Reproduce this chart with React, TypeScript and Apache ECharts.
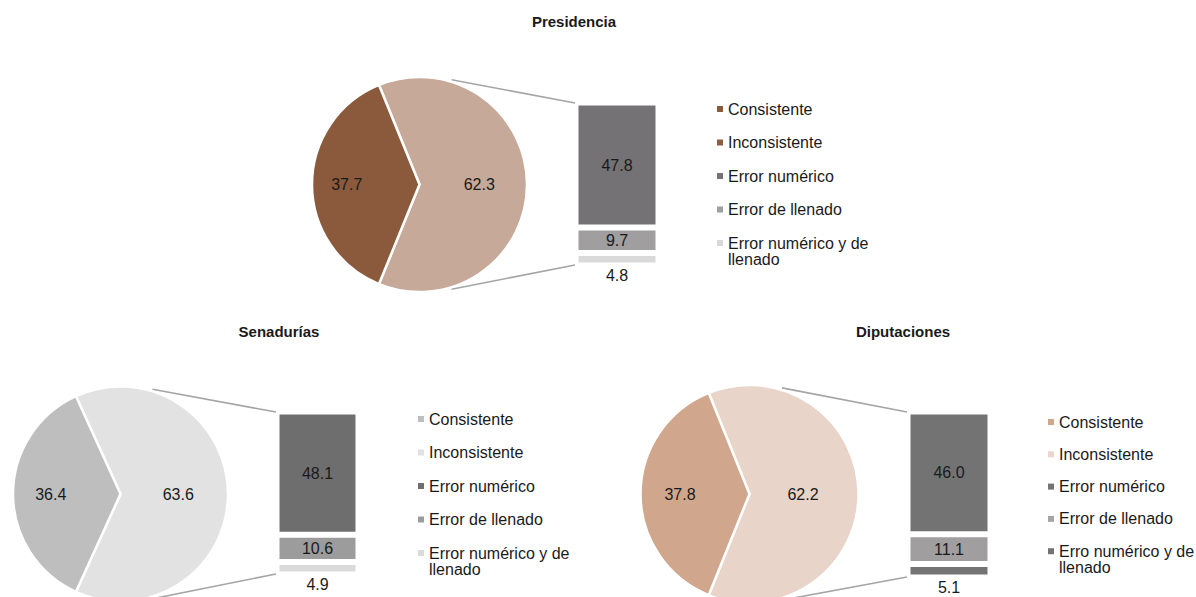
import React, { useEffect, useRef } from 'react';
import * as echarts from 'echarts';

// ---------- data ----------
const chartTitles = ['Presidencia', 'Senadurías', 'Diputaciones'];
const pieCategories = ['Consistente', 'Inconsistente'];
const consistente = [37.7, 36.4, 37.8];
const inconsistente = [62.3, 63.6, 62.2];
const barCategories = [
  ['Error numérico', 'Error de llenado', 'Error numérico y de llenado'],
  ['Error numérico', 'Error de llenado', 'Error numérico y de llenado'],
  ['Error numérico', 'Error de llenado', 'Erro numérico y de llenado'],
];
const errorNumerico = [47.8, 48.1, 46.0];
const errorLlenado = [9.7, 10.6, 11.1];
const errorAmbos = [4.8, 4.9, 5.1];

// ---------- styles ----------
const consColors = ['#8B5A3C', '#BEBEBE', '#D0A68C'];
const incColors = ['#C6A999', '#E2E2E2', '#E8D4C8'];
const barColors = [
  ['#747274', '#A09E9F', '#D9D9D9'],
  ['#6E6E6E', '#9C9C9C', '#DADADA'],
  ['#747374', '#A09E9F', '#747374'],
];
const legendColors = [
  ['#8B5A3C', '#8E5C42', '#747274', '#A09E9F', '#D9D9D9'],
  ['#BEBEBE', '#E1E1E1', '#6E6E6E', '#9C9C9C', '#DADADA'],
  ['#D0A68C', '#EBD6CB', '#747374', '#A5A5A5', '#747374'],
];

// ---------- layout ----------
const layouts = [
  { title: [574, 21], cx: 419.5, cy: 184.5, r: 107.5, bar: { left: 577, top: 104, width: 80, height: 160 }, legend: { left: 717, top: 100.5, gap: 16.5 }, labelDx: [3, -16] },
  { title: [279, 331], cx: 120.5, cy: 494, r: 107.5, bar: { left: 278, top: 413, width: 79, height: 160 }, legend: { left: 418, top: 410.5, gap: 16.5 }, labelDx: [1, -13] },
  { title: [903, 331], cx: 749.5, cy: 494, r: 109, bar: { left: 909, top: 413, width: 80, height: 163 }, legend: { left: 1048, top: 413.5, gap: 15.3 }, labelDx: [-4, -12] },
];

const FONT = '"Liberation Sans", Arial, Helvetica, sans-serif';
const TEXT = '#1a1a1a';
const LINE_ANGLE = (73 * Math.PI) / 180;
const LEGEND_LH = 17;
const WRAP_SUFFIX = ' y de llenado';
const WRAP_WORD = ' llenado';

function buildOption() {
  const grid: any[] = [];
  const xAxis: any[] = [];
  const yAxis: any[] = [];
  const series: any[] = [];
  const legend: any[] = [];
  const graphic: any[] = [];
  const barValues = [errorNumerico, errorLlenado, errorAmbos];

  chartTitles.forEach((title, i) => {
    const L = layouts[i];
    const inc = inconsistente[i];
    const cons = consistente[i];
    const total = barValues.reduce((s, arr) => s + arr[i], 0);
    const bw = 3;

    graphic.push({
      type: 'text',
      x: L.title[0],
      y: L.title[1],
      silent: true,
      style: {
        text: title,
        font: `bold 15px ${FONT}`,
        fill: TEXT,
        align: 'center',
        verticalAlign: 'middle',
        textAlign: 'center',
        textVerticalAlign: 'middle',
      },
    });

    // connector lines
    const rr = L.r + 2;
    graphic.push({
      type: 'line',
      silent: true,
      shape: {
        x1: L.cx + rr * Math.cos(LINE_ANGLE),
        y1: L.cy - rr * Math.sin(LINE_ANGLE),
        x2: L.bar.left - 2,
        y2: L.bar.top - 1,
      },
      style: { stroke: '#A5A5A5', lineWidth: 1.6 },
    });
    graphic.push({
      type: 'line',
      silent: true,
      shape: {
        x1: L.cx + rr * Math.cos(LINE_ANGLE),
        y1: L.cy + rr * Math.sin(LINE_ANGLE),
        x2: L.bar.left - 2,
        y2: L.bar.top + L.bar.height + 1,
      },
      style: { stroke: '#A5A5A5', lineWidth: 1.6 },
    });

    series.push({
      type: 'pie',
      name: title,
      center: [L.cx, L.cy],
      radius: L.r,
      startAngle: (180 * inc) / (inc + cons),
      clockwise: true,
      avoidLabelOverlap: false,
      silent: true,
      emphasis: { disabled: true },
      itemStyle: { borderColor: '#ffffff', borderWidth: 2.5 },
      label: {
        show: true,
        position: 'inside',
        fontFamily: FONT,
        fontSize: 16,
        color: TEXT,
        formatter: (p: any) => Number(p.value).toFixed(1),
      },
      labelLine: { show: false },
      labelLayout: (p: any) => ({ dx: L.labelDx[p.dataIndex] }),
      data: [
        { name: pieCategories[1], value: inc, itemStyle: { color: incColors[i] } },
        { name: pieCategories[0], value: cons, itemStyle: { color: consColors[i] } },
      ],
    });

    grid.push({
      left: L.bar.left - bw / 2,
      top: L.bar.top - bw / 2,
      width: L.bar.width + bw,
      height: L.bar.height + bw,
      containLabel: false,
    });
    xAxis.push({ type: 'category', gridIndex: i, data: [''], show: false });
    yAxis.push({ type: 'value', gridIndex: i, min: 0, max: total, inverse: true, show: false });

    barValues.forEach((arr, k) => {
      series.push({
        type: 'bar',
        name: barCategories[i][k],
        stack: 'stack' + i,
        xAxisIndex: i,
        yAxisIndex: i,
        barWidth: '100%',
        silent: true,
        emphasis: { disabled: true },
        itemStyle: { color: barColors[i][k], borderColor: '#ffffff', borderWidth: bw },
        label: {
          show: true,
          position: k === 2 ? 'bottom' : 'inside',
          distance: 2,
          fontFamily: FONT,
          fontSize: 16,
          color: TEXT,
          formatter: (p: any) => Number(p.value).toFixed(1),
        },
        data: [arr[i]],
      });
    });

    const names = [...pieCategories, ...barCategories[i]];
    const isWrapped = (n: string) => n.endsWith(WRAP_SUFFIX);
    legend.push({
      orient: 'vertical',
      left: L.legend.left,
      top: L.legend.top,
      height: 260,
      padding: 0,
      itemGap: L.legend.gap,
      itemWidth: 6,
      itemHeight: 6,
      icon: 'rect',
      selectedMode: false,
      itemStyle: { borderWidth: 0 },
      textStyle: { fontFamily: FONT, fontSize: 16, lineHeight: LEGEND_LH, color: TEXT },
      formatter: (n: string) => (isWrapped(n) ? n.slice(0, -WRAP_WORD.length) : n),
      data: names.map((n, k) => ({ name: n, itemStyle: { color: legendColors[i][k], borderWidth: 0 } })),
    });

    // continuation line of the wrapped last legend entry
    names.forEach((n, k) => {
      if (!isWrapped(n)) return;
      graphic.push({
        type: 'text',
        silent: true,
        x: L.legend.left + 6 + 5,
        y: L.legend.top + k * (LEGEND_LH + L.legend.gap) + LEGEND_LH / 2 + LEGEND_LH - 1,
        style: {
          text: WRAP_WORD.trim(),
          font: `16px ${FONT}`,
          fill: TEXT,
          align: 'left',
          verticalAlign: 'middle',
          textAlign: 'left',
          textVerticalAlign: 'middle',
        },
      });
    });
  });

  return {
    animation: false,
    backgroundColor: '#ffffff',
    grid,
    xAxis,
    yAxis,
    legend,
    series,
    graphic,
  };
}

export default function App() {
  const ref = useRef<HTMLDivElement>(null);
  useEffect(() => {
    if (!ref.current) return;
    const chart = echarts.init(ref.current, undefined, { renderer: 'svg' });
    chart.setOption(buildOption() as any);
    return () => chart.dispose();
  }, []);
  return (
    <div
      ref={ref}
      style={{ position: 'absolute', left: 0, top: 0, width: 1196, height: 597 }}
    />
  );
}
